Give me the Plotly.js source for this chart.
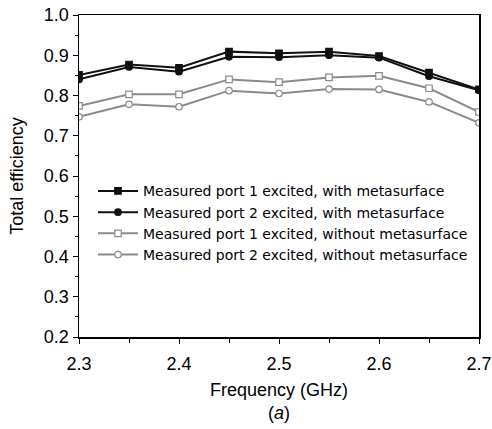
<!DOCTYPE html>
<html><head><meta charset="utf-8">
<script src="https://cdn.plot.ly/plotly-3.0.1.min.js"></script>
<style>html,body{margin:0;padding:0;background:#fff;}#chart{width:492px;height:429px;}</style>
</head><body><div id="chart"></div>
<script>
const freq = [2.3, 2.35, 2.4, 2.45, 2.5, 2.55, 2.6, 2.65, 2.7];
const port1With = [0.851, 0.877, 0.869, 0.909, 0.905, 0.909, 0.898, 0.857, 0.815];
const port2With = [0.840, 0.871, 0.859, 0.896, 0.895, 0.900, 0.894, 0.848, 0.813];
const port1Without = [0.774, 0.803, 0.803, 0.840, 0.833, 0.845, 0.849, 0.818, 0.759];
const port2Without = [0.747, 0.778, 0.772, 0.812, 0.805, 0.816, 0.815, 0.784, 0.732];
const names = [
  "Measured port 1 excited, with metasurface",
  "Measured port 2 excited, with metasurface",
  "Measured port 1 excited, without metasurface",
  "Measured port 2 excited, without metasurface"
];
const black = "#111111", gray = "#8a8a8a";
function tr(y, name, color, symbol, fill) {
  return {x: freq, y: y, name: name, type: "scatter", mode: "lines+markers",
    line: {color: color, width: 2},
    marker: {symbol: symbol, size: 6.5, color: fill, line: {color: color, width: 1.2}}};
}
const data = [
  tr(port1With, names[0], black, "square", black),
  tr(port2With, names[1], black, "circle", black),
  tr(port1Without, names[2], gray, "square", "#ffffff"),
  tr(port2Without, names[3], gray, "circle", "#ffffff")
];
const layout = {
  width: 492, height: 429,
  margin: {l: 79, r: 13, t: 15, b: 92},
  paper_bgcolor: "#fff", plot_bgcolor: "#fff",
  font: {family: "Liberation Sans, Arial, sans-serif", size: 18, color: "#000"},
  showlegend: true,
  legend: {x: 0.035, y: 0.502, xanchor: "left", yanchor: "top", bgcolor: "rgba(0,0,0,0)",
    font: {family: "DejaVu Sans, sans-serif", size: 14}, itemwidth: 40, traceorder: "normal"},
  xaxis: {range: [2.3, 2.7], dtick: 0.1, tick0: 2.3, showgrid: false, zeroline: false,
    showline: true, linecolor: "#000", linewidth: 1.5, mirror: true,
    ticks: "outside", ticklen: 5, tickcolor: "#000", ticklabelstandoff: 5,
    minor: {dtick: 0.05, ticks: "outside", ticklen: 4, tickcolor: "#000"},
    tickformat: ".1f", tickfont: {size: 18},
    title: {text: "Frequency (GHz)", font: {size: 18}, standoff: 10}},
  yaxis: {range: [0.2, 1.0], dtick: 0.1, showgrid: false, zeroline: false,
    showline: true, linecolor: "#000", linewidth: 1.5, mirror: true,
    ticks: "outside", ticklen: 5, tickcolor: "#000",
    minor: {dtick: 0.05, ticks: "outside", ticklen: 3, tickcolor: "#000"},
    tickformat: ".1f", tickfont: {size: 18},
    title: {text: "Total efficiency", font: {size: 18}, standoff: 15}},
  annotations: [{text: "(<i>a</i>)", xref: "paper", yref: "paper", x: 0.5, y: -0.235,
    xanchor: "center", yanchor: "middle", showarrow: false, font: {size: 18}}]
};
Plotly.newPlot("chart", data, layout, {staticPlot: true});
</script></body></html>
